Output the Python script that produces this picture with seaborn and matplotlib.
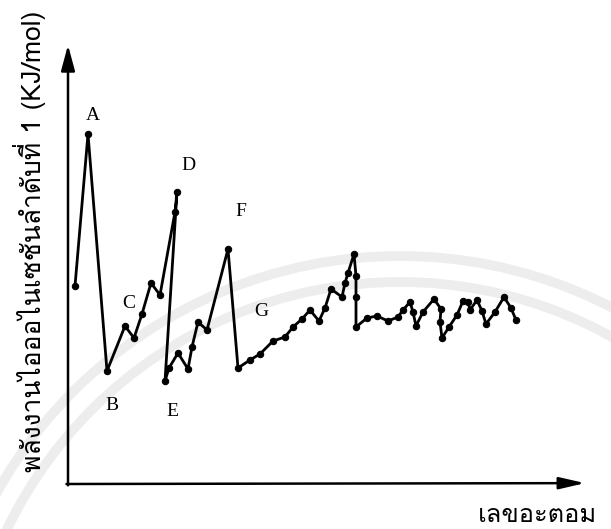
import matplotlib
matplotlib.use("Agg")
import matplotlib.pyplot as plt
from matplotlib.patches import Arc
from matplotlib import font_manager
import seaborn as sns
import pandas as pd

# First ionization energy sketch: positions along the atomic-number axis
# and heights above the baseline (arbitrary units, axes carry no ticks).
atomic_pos = [7, 20, 39, 57, 66, 74, 83, 92, 107, 109,
              97, 101, 110, 120, 124, 130, 139, 160,
              170, 182, 192, 205, 217, 225, 234, 242, 251, 257, 263, 274, 277, 280, 286,
              288, 288, 288,
              299, 309, 320, 330, 335, 342, 345, 348, 355, 366, 373, 372, 374, 381,
              389, 395, 400, 402, 409, 414, 418, 427, 436, 443, 448]
energy = [198, 350, 113, 158, 146, 170, 201, 189, 272, 292,
          103, 116, 131, 115, 137, 162, 154, 235,
          116, 124, 130, 143, 147, 157, 165, 174, 163, 176, 195, 187, 201, 211, 230,
          208, 187, 157,
          166, 168, 163, 167, 174, 182, 172, 158, 172, 185, 175, 162, 146, 157,
          169, 183, 182, 174, 184, 173, 160, 172, 187, 176, 164]

point_labels = ["A", "B", "C", "D", "E", "F", "G"]
label_x = [25, 44, 61, 120, 104, 173, 193]
label_y = [369, 79, 181, 319, 72, 272, 172]

y_title = "พลังงานไอออไนเซชันลำดับที่ 1 (KJ/mol)"
x_title = "เลขอะตอม"

sns.set_theme(style="white")

def pick_thai_font():
    names = {f.name for f in font_manager.fontManager.ttflist}
    for cand in ["Tlwg Typo", "Tlwg Typewriter", "Tlwg Mono", "Loma",
                 "Noto Sans Thai Looped", "Sarabun", "Garuda", "Noto Sans Thai"]:
        if cand in names:
            return cand
    return "DejaVu Sans"

thai_font = pick_thai_font()
plt.rcParams["font.family"] = [thai_font, "DejaVu Sans"]

W, H = 611, 529
fig = plt.figure(figsize=(W / 100, H / 100), dpi=100)
fig.patch.set_facecolor("white")

# faint background emblem arcs
bg = fig.add_axes([0, 0, 1, 1], zorder=0)
bg.set_xlim(0, W)
bg.set_ylim(H, 0)
bg.axis("off")
for r in (462, 436):
    bg.add_patch(Arc((400, 718), 2 * r, 2 * r, theta1=180, theta2=360,
                     color="#ededed", lw=7))

ox, oy = 68, 484
x_end, y_end = 585, 45
ax = fig.add_axes([ox / W, (H - oy) / H, (x_end - ox) / W, (oy - y_end) / H], zorder=2)
ax.patch.set_alpha(0)
df = pd.DataFrame({"pos": atomic_pos, "energy": energy})
sns.lineplot(data=df, x="pos", y="energy", sort=False, estimator=None,
             errorbar=None, ax=ax, color="black",
             lw=2.0, marker="o", markersize=4.6, markeredgecolor="black",
             markerfacecolor="black")
ax.set_xlim(0, x_end - ox)
ax.set_ylim(0, oy - y_end)
for s in ax.spines.values():
    s.set_visible(False)
ax.set_xticks([])
ax.set_yticks([])
ax.set_xlabel("")
ax.set_ylabel("")

# arrowed axes
ax.annotate("", xy=(0, 1.0), xytext=(0, -0.003), xycoords="axes fraction",
            arrowprops=dict(arrowstyle="-|>,head_length=1.3,head_width=0.35",
                            color="black", lw=1.8, shrinkA=0, shrinkB=0),
            annotation_clip=False)
ax.annotate("", xy=(1.0, 0.002), xytext=(-0.003, 0.0), xycoords="axes fraction",
            arrowprops=dict(arrowstyle="-|>,head_length=1.3,head_width=0.3",
                            color="black", lw=1.8, shrinkA=0, shrinkB=0),
            annotation_clip=False)

for t, x, y in zip(point_labels, label_x, label_y):
    ax.text(x, y, t, ha="center", va="center", fontsize=14,
            family=["Liberation Serif", "DejaVu Serif"], color="black")

ylab = fig.text(30 / W, (H - 472) / H, y_title, rotation=90, ha="center",
                va="bottom", fontsize=15, color="black")
xlab = fig.text(597 / W, (H - 515) / H, x_title, ha="right", va="center",
                fontsize=17, color="black")

# size the titles to their intended lengths
renderer = fig.canvas.get_renderer()
bb = ylab.get_window_extent(renderer)
ylab.set_fontsize(15 * 462 / bb.height)
bb = xlab.get_window_extent(renderer)
xlab.set_fontsize(17 * 119 / bb.width)

fig.savefig("out.png", dpi=100)
